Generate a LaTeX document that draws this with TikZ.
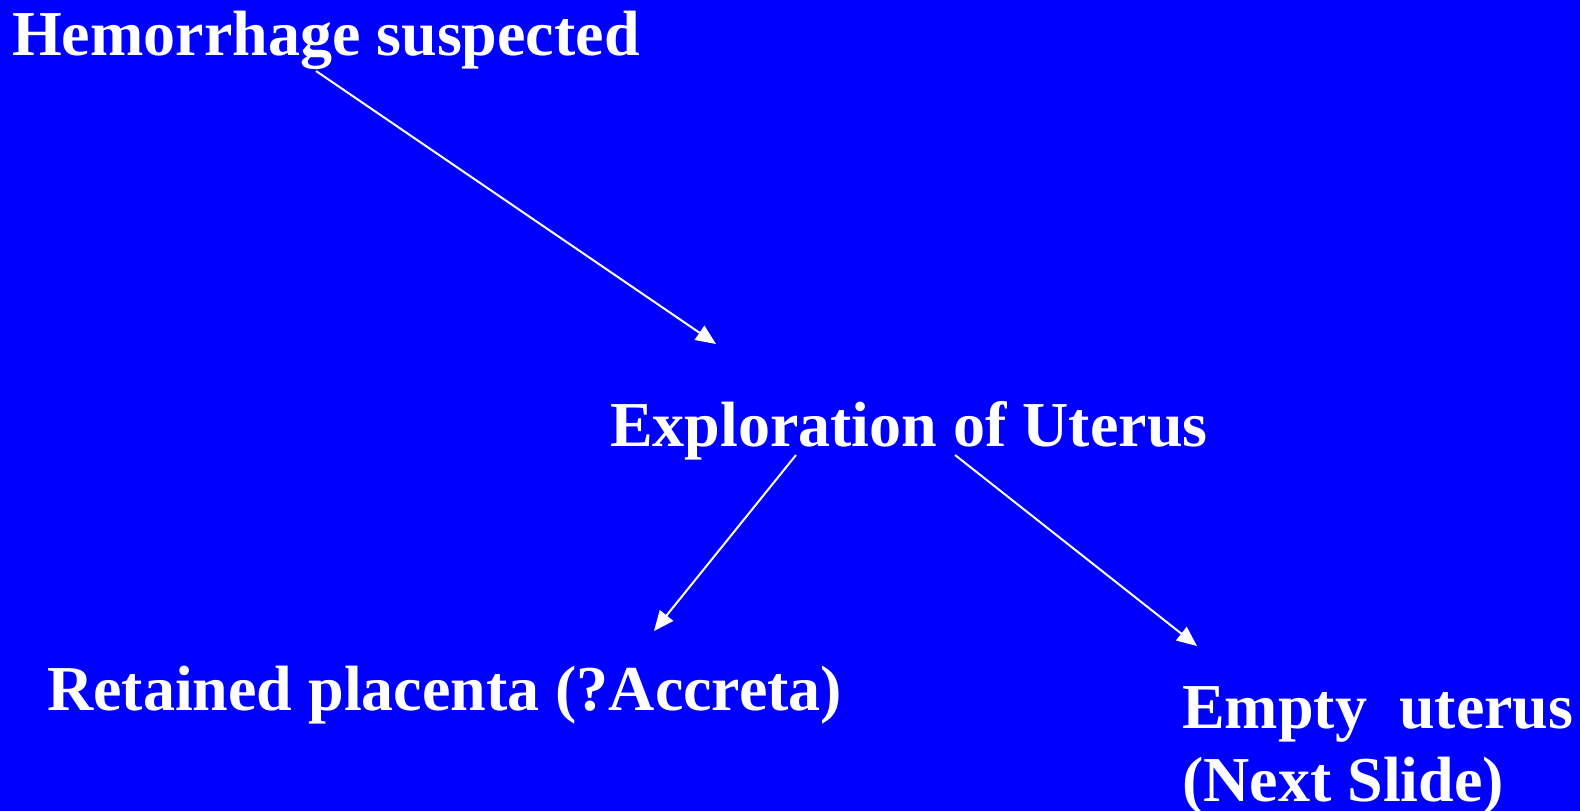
\documentclass[tikz,border=0pt]{standalone}
\usepackage{fontspec}
\setmainfont{Liberation Serif}
\usetikzlibrary{arrows.meta}
\definecolor{slideblue}{RGB}{0,0,255}
\tikzset{
  label/.style={anchor=base west, inner sep=0pt, text=white,
    font=\bfseries\fontsize{64}{73}\selectfont, align=left},
  arr/.style={draw=white, line width=2pt,
    -{Triangle[length=20pt,width=17pt]}}
}
\begin{document}
\begin{tikzpicture}[x=1pt,y=-1pt]
      \fill[slideblue] (0,0) rectangle (1580,811);
      \useasboundingbox (0,0) rectangle (1580,811);
      \draw
        (12,55) node[label] (hem){Hemorrhage suspected}
        (610,446) node[label] (expl){Exploration of Uterus}
        (47,710) node[label] (ret){Retained placenta (?Accreta)}
        (1182,801) node[label] (empty){Empty\ \ uterus\\(Next Slide)};
      \coordinate (a1) at (316,71);
      \coordinate (b1) at (716,344);
      \coordinate (a2) at (796,455);
      \coordinate (b2) at (654,631);
      \coordinate (a3) at (955,455);
      \coordinate (b3) at (1197,646);
      \begin{scope}[arr]
        \draw (a1) to (b1);
        \draw (a2) to (b2);
        \draw (a3) to (b3);
      \end{scope}
    \end{tikzpicture}
\end{document}
